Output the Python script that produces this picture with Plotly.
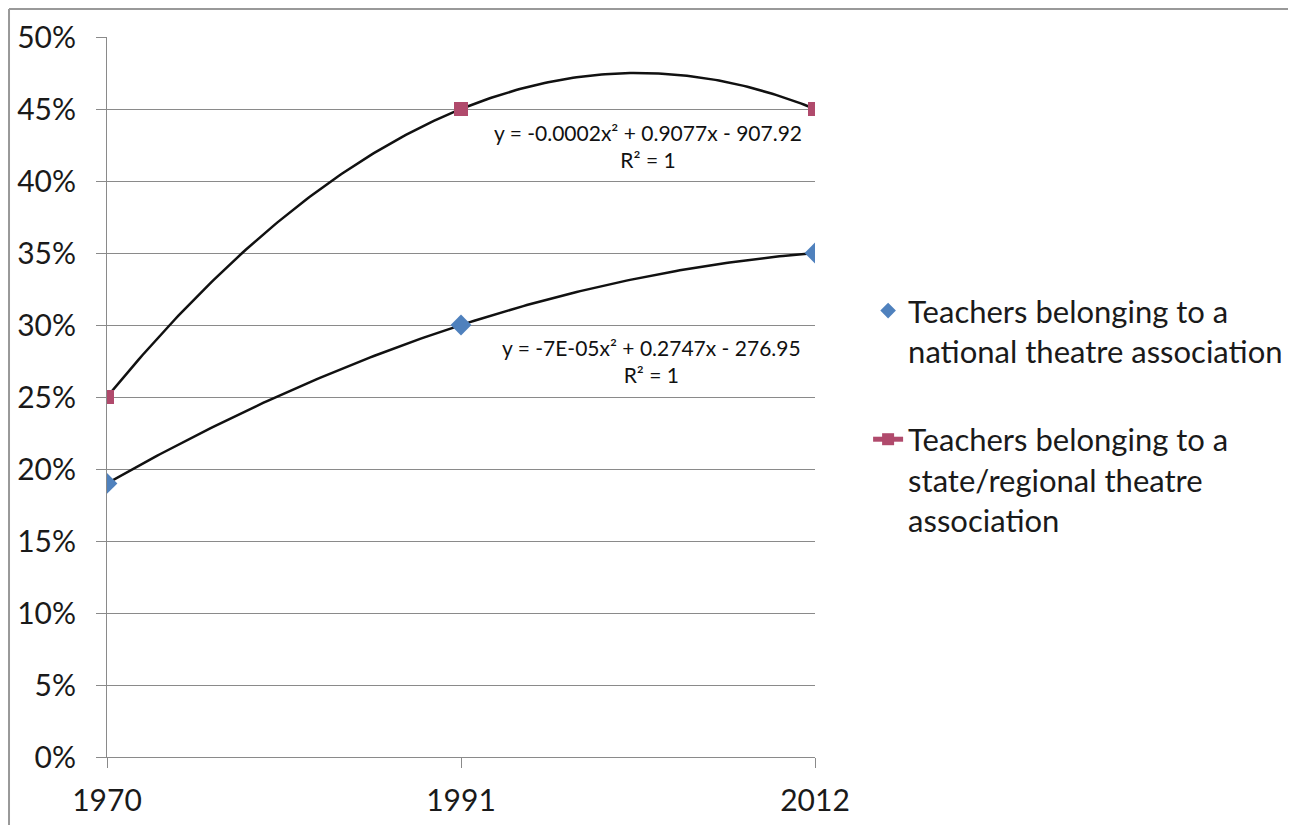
import numpy as np
import plotly.graph_objects as go

years = [1970, 1991, 2012]
national = [0.19, 0.30, 0.35]
state = [0.25, 0.45, 0.45]
series_names = ["Teachers belonging to a<br>national theatre association",
                "Teachers belonging to a<br>state/regional theatre<br>association"]
eq_national = "y = -7E-05x² + 0.2747x - 276.95<br>R² = 1"
eq_state = "y = -0.0002x² + 0.9077x - 907.92<br>R² = 1"
y_ticks = [0, 0.05, 0.10, 0.15, 0.20, 0.25, 0.30, 0.35, 0.40, 0.45, 0.50]

FONT = "Lato, 'Open Sans', sans-serif"
GRID = "#8a8a8a"
BLUE = "#4F81BD"
PINK = "#B04A6C"

fig = go.Figure()

# quadratic trendlines fitted from the data
xs = np.linspace(years[0], years[-1], 200)
for vals in (state, national):
    p = np.polynomial.Polynomial.fit(years, vals, 2)
    fig.add_trace(go.Scatter(x=xs, y=p(xs), mode="lines",
                             line=dict(color="#111111", width=2.5),
                             showlegend=False, hoverinfo="skip"))

fig.add_trace(go.Scatter(x=years, y=national, mode="markers", showlegend=False,
                         marker=dict(symbol="diamond", size=16, color=BLUE)))
fig.add_trace(go.Scatter(x=years, y=state, mode="markers", showlegend=False,
                         marker=dict(symbol="square", size=14, color=PINK)))

# legend entries
fig.add_trace(go.Scatter(x=[None], y=[None], mode="markers", name=series_names[0],
                         legendgroup="a",
                         marker=dict(symbol="diamond", size=14, color=BLUE)))
fig.add_trace(go.Scatter(x=[None], y=[None], mode="lines+markers", name=series_names[1],
                         legendgroup="b", line=dict(color=PINK, width=2.5),
                         marker=dict(symbol="square", size=12, color=PINK)))

fig.add_annotation(x=2002.3, y=0.275, text=eq_national, showarrow=False,
                   font=dict(family=FONT, size=21, color="#111111"), align="center")
fig.add_annotation(x=2002.1, y=0.4243, text=eq_state, showarrow=False,
                   font=dict(family=FONT, size=21, color="#111111"), align="center")

# outer chart border (top and left visible)
fig.add_shape(type="line", xref="paper", yref="paper",
              x0=-0.1384, x1=1.68, y0=1.0389, y1=1.0389, line=dict(color="#999999", width=2))
fig.add_shape(type="line", xref="paper", yref="paper",
              x0=-0.1384, x1=-0.1384, y0=1.0389, y1=-0.1, line=dict(color="#999999", width=2))

fig.update_layout(
    width=1288, height=817,
    margin=dict(l=99, r=481, t=29, b=68, autoexpand=False),
    paper_bgcolor="white", plot_bgcolor="white",
    font=dict(family=FONT, size=30, color="#1a1a1a"),
    legend=dict(x=1.075, y=0.657, xanchor="left", yanchor="top", valign="top",
                font=dict(family=FONT, size=31, color="#1a1a1a"),
                tracegroupgap=45, itemsizing="constant", traceorder="grouped",
                itemwidth=30),
    showlegend=True,
)
fig.update_xaxes(range=[1970, 2012], tickvals=years, ticktext=[str(y) for y in years],
                 showgrid=False, zeroline=False, showline=True, linecolor=GRID, linewidth=1,
                 ticks="outside", ticklen=10, tickcolor=GRID, ticklabelstandoff=7,
                 automargin=False,
                 tickfont=dict(family=FONT, size=30, color="#1a1a1a"))
fig.update_yaxes(range=[0, 0.5], tickvals=y_ticks, tickformat=".0%",
                 showgrid=True, gridcolor=GRID, gridwidth=1, zeroline=False,
                 showline=True, linecolor=GRID, linewidth=1,
                 ticks="outside", ticklen=10, tickcolor=GRID, ticklabelstandoff=14,
                 automargin=False,
                 tickfont=dict(family=FONT, size=30, color="#1a1a1a"))

fig.write_html("out.html")
